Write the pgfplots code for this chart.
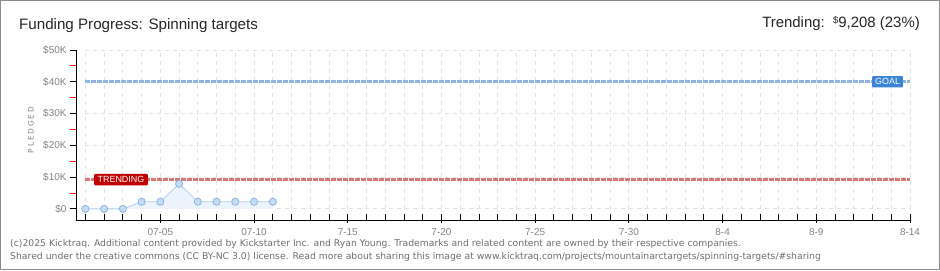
\documentclass[border=0pt]{standalone}
\usepackage{pgfplots}
\pgfplotsset{compat=1.18}
\usepackage{fontspec}
\setmainfont{Liberation Sans}
\newfontfamily\footfont{DejaVu Sans}
\newfontfamily\pledfont[LetterSpace=25]{DejaVu Sans}
\definecolor{gridc}{RGB}{225,225,225}
\definecolor{areafill}{RGB}{236,243,252}
\definecolor{arealine}{RGB}{178,208,240}
\definecolor{markfill}{RGB}{197,220,246}
\definecolor{markdraw}{RGB}{140,178,222}
\definecolor{goalline}{RGB}{143,180,226}
\definecolor{goalbox}{RGB}{58,132,214}
\definecolor{trendline}{RGB}{214,118,118}
\definecolor{trendbox}{RGB}{192,0,0}
\definecolor{labgray}{RGB}{130,130,130}
\definecolor{footgray}{RGB}{110,110,110}
\definecolor{framegray}{RGB}{140,140,140}
\begin{document}
\begin{tikzpicture}[x=1bp,y=1bp]
\useasboundingbox (0,0) rectangle (940,270);
\draw[framegray, line width=1.2bp] (0.6,0.6) rectangle (939.4,269.4);
\node[anchor=base west, inner sep=0, font=\fontsize{15.2}{15}\selectfont, text=black!85] at (19,241) {Funding Progress: Spinning targets};
\node[anchor=base east, inner sep=0, font=\fontsize{15}{15}\selectfont, text=black!85] at (920,243) {Trending:\ \ \raisebox{3.5bp}{\fontsize{9.5}{9}\selectfont\$}9,208 (23\%)};
\node[anchor=base west, inner sep=0, font=\footfont\fontsize{9.3}{9}\selectfont, text=footgray] at (10,24) {(c)2025 Kicktraq. Additional content provided by Kickstarter Inc. and Ryan Young. Trademarks and related content are owned by their respective companies.};
\node[anchor=base west, inner sep=0, font=\footfont\fontsize{9.3}{9}\selectfont, text=footgray] at (10,11) {Shared under the creative commons (CC BY-NC 3.0) license. Read more about sharing this image at www.kicktraq.com/projects/mountainarctargets/spinning-targets/\#sharing};
\node[rotate=90, inner sep=0, font=\pledfont\fontsize{7.5}{7}\selectfont, text=labgray] at (31,140) {PLEDGED};
\begin{axis}[
  at={(76bp,50bp)}, anchor=south west, scale only axis,
  width=834bp, height=170bp,
  xmin=-0.5, xmax=44, ymin=-3.5, ymax=50,
  axis x line=bottom, axis y line=left,
  axis line style={black, line width=0.9bp, -},
  tick align=outside,
  xtick={4,9,...,44},
  xticklabels={07-05,07-10,7-15,7-20,7-25,7-30,8-4,8-9,8-14},
  minor xtick={0,...,44},
  ytick={0,10,...,50},
  yticklabels={\$0,\$10K,\$20K,\$30K,\$40K,\$50K},
  minor ytick={5,15,...,45},
  major tick length=6bp, minor tick length=6bp,
  x tick style={black, line width=0.9bp, yshift=3bp},
  minor x tick style={black, line width=0.9bp, yshift=3bp},
  y tick style={black, line width=0.9bp},
  minor y tick style={red, line width=0.9bp},
  xticklabel style={font=\fontsize{10}{10}\selectfont, text=labgray, yshift=1bp},
  yticklabel style={font=\fontsize{10}{10}\selectfont, text=labgray},
  clip=false,
]
\pgfplotsinvokeforeach{0,...,44}{\draw[gridc, line width=0.8bp, dash pattern=on 4bp off 4bp] (axis cs:#1,0) -- (axis cs:#1,50);}
\pgfplotsinvokeforeach{0,10,...,50}{\draw[gridc, line width=0.8bp, dash pattern=on 4bp off 4bp] (axis cs:0,#1) -- (axis cs:44,#1);}
\addplot[fill=areafill, draw=none] coordinates {(0,0) (1,0) (2,0) (3,2.25) (4,2.25) (5,7.9) (6,2.25) (7,2.25) (8,2.25) (9,2.25) (10,2.25)} \closedcycle;
\addplot[goalline, line width=3bp, dash pattern=on 4.2bp off 1.8bp] coordinates {(0,40) (44,40)};
\addplot[trendline, line width=3bp, dash pattern=on 4.2bp off 1.8bp] coordinates {(0,9.208) (44,9.208)};
\addplot[arealine, line width=0.8bp, mark=*, mark size=3.6bp, mark options={fill=markfill, draw=markdraw, line width=0.8bp}] coordinates {(0,0) (1,0) (2,0) (3,2.25) (4,2.25) (5,7.9) (6,2.25) (7,2.25) (8,2.25) (9,2.25) (10,2.25)};
\node[fill=goalbox, text=white, font=\fontsize{9}{9}\selectfont, inner xsep=3bp, inner ysep=2.5bp, rounded corners=1bp] at (axis cs:42.8,40) {GOAL};
\node[fill=trendbox, text=white, font=\fontsize{9}{9}\selectfont, inner xsep=3.5bp, inner ysep=2.5bp, rounded corners=1bp] at (axis cs:1.9,9.208) {TRENDING};
\end{axis}
\end{tikzpicture}
\end{document}
